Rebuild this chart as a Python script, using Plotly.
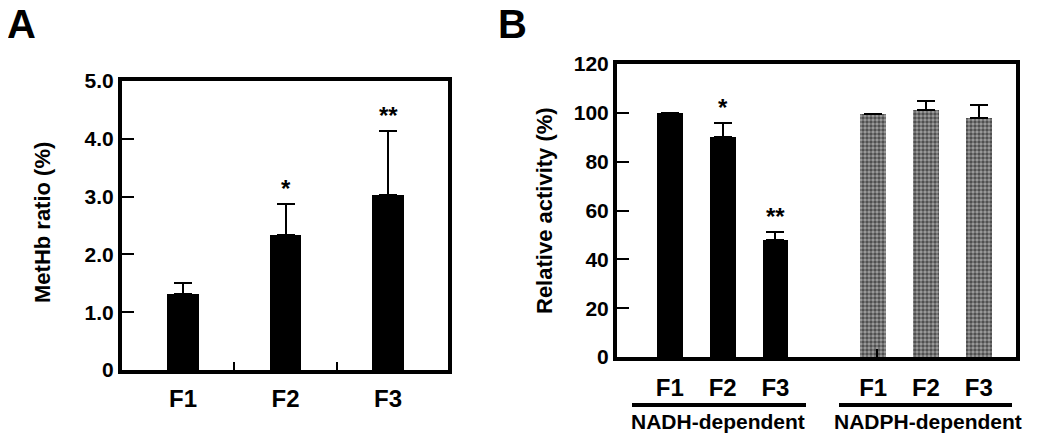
import plotly.graph_objects as go

# Panel A: MetHb ratio
fractions = ["F1", "F2", "F3"]
methb_ratio = [1.32, 2.34, 3.03]
methb_err = [0.18, 0.53, 1.11]
methb_sig = ["", "*", "**"]

# Panel B: relative reductase activity
nadh_activity = [100.0, 90.0, 48.0]
nadh_err = [0.0, 5.7, 3.0]
nadph_activity = [99.4, 101.2, 98.0]
nadph_err = [0.0, 3.6, 5.4]
activity_sig = ["", "*", "**"]
group_names = ["NADH-dependent", "NADPH-dependent"]

FONT = "Liberation Sans, Arial, sans-serif"
W, H = 1050, 443
OFF = 8  # page body margin

def px_x(p):
    return (p - OFF) / W

def px_y(p):
    return 1 - (p - OFF) / H

xa = [1, 2, 3]
gap = 3.85
xb1 = [1, 2, 3]
xb2 = [v + gap for v in xb1]

fig = go.Figure()

err_style = dict(type="data", symmetric=False, color="black", thickness=2, width=9)

fig.add_trace(go.Bar(
    x=xa, y=methb_ratio, width=0.31, marker=dict(color="black", line=dict(width=0)),
    error_y=dict(array=methb_err, arrayminus=[0] * 3, **err_style),
    xaxis="x", yaxis="y", showlegend=False
))
fig.add_trace(go.Bar(
    x=xb1, y=nadh_activity, width=0.49, marker=dict(color="black", line=dict(width=0)),
    error_y=dict(array=nadh_err, arrayminus=[0] * 3, **err_style),
    xaxis="x2", yaxis="y2", showlegend=False
))
fig.add_trace(go.Bar(
    x=xb2, y=nadph_activity, width=0.49,
    marker=dict(color="white", line=dict(width=0),
                pattern=dict(shape=".", size=4, solidity=0.6, fgcolor="black", bgcolor="#a0a0a0")),
    error_y=dict(array=nadph_err, arrayminus=[0] * 3, **err_style),
    xaxis="x2", yaxis="y2", showlegend=False
))

# significance marks
star_font = dict(family=FONT, size=24, color="black", weight="bold")
for x, v, e, s in zip(xa, methb_ratio, methb_err, methb_sig):
    if s:
        fig.add_annotation(x=x, y=v + e, xref="x", yref="y", text=s, showarrow=False,
                           xanchor="center", yanchor="bottom", font=star_font)
for x, v, e, s in zip(xb1, nadh_activity, nadh_err, activity_sig):
    if s:
        fig.add_annotation(x=x, y=v + e, xref="x2", yref="y2", text=s, showarrow=False,
                           xanchor="center", yanchor="bottom", font=star_font)

axis_common = dict(showline=True, linewidth=4, linecolor="black", mirror=True,
                   showgrid=False, zeroline=False, automargin=False)
tickfont = dict(family=FONT, size=21, color="black", weight="bold")
xtickfont = dict(family=FONT, size=24, color="black", weight="bold")

fig.update_layout(
    width=W, height=H,
    margin=dict(l=0, r=0, t=0, b=0, autoexpand=False),
    plot_bgcolor="white", paper_bgcolor="white",
    bargap=0,
    xaxis=dict(domain=[px_x(122), px_x(448)], range=[0.405, 3.585], anchor="y",
               tickvals=xa, ticktext=fractions, ticks="", tickfont=xtickfont, ticklabelstandoff=4,
               minor=dict(tickvals=[1.5, 2.5], ticks="inside", ticklen=8, tickwidth=2, tickcolor="black"),
               **axis_common),
    yaxis=dict(domain=[px_y(370), px_y(81)], range=[0, 5], anchor="x",
               tickvals=[0, 1, 2, 3, 4, 5], ticktext=["0", "1.0", "2.0", "3.0", "4.0", "5.0"],
               ticks="inside", ticklen=12, tickwidth=2, tickcolor="black", tickfont=tickfont,
               **axis_common),
    xaxis2=dict(domain=[px_x(617), px_x(1016)], range=[0, 3 + gap + 0.705], anchor="y2",
                tickvals=xb1 + xb2, ticktext=fractions + fractions, ticks="", tickfont=xtickfont,
                ticklabelstandoff=6,
                minor=dict(tickvals=[3 + gap / 2], ticks="inside", ticklen=8, tickwidth=2,
                           tickcolor="black"),
                **axis_common),
    yaxis2=dict(domain=[px_y(357), px_y(64)], range=[0, 120], anchor="x2",
                tickvals=[0, 20, 40, 60, 80, 100, 120],
                ticks="inside", ticklen=12, tickwidth=2, tickcolor="black", tickfont=tickfont,
                **axis_common),
)

# axis titles
title_font = dict(family=FONT, size=22, color="black", weight="bold")
fig.add_annotation(x=px_x(42), y=px_y(223), xref="paper", yref="paper", text="MetHb ratio (%)",
                   textangle=-90, showarrow=False, xanchor="center", yanchor="middle", font=title_font)
fig.add_annotation(x=px_x(544), y=px_y(211), xref="paper", yref="paper", text="Relative activity (%)",
                   textangle=-90, showarrow=False, xanchor="center", yanchor="middle", font=title_font)

# panel letters
letter_font = dict(family=FONT, size=40, color="black", weight="bold")
fig.add_annotation(x=0, y=1, xref="paper", yref="paper", text="A", showarrow=False,
                   xanchor="left", yanchor="top", yshift=8, xshift=-3, font=letter_font)
fig.add_annotation(x=px_x(496), y=1, xref="paper", yref="paper", text="B", showarrow=False,
                   xanchor="left", yanchor="top", yshift=8, font=letter_font)

# group underline and labels
spans = [(632, 806), (839, 1012)]
centers = [718, 928]
for (x0, x1), c, name in zip(spans, centers, group_names):
    fig.add_shape(type="line", xref="paper", yref="paper", x0=px_x(x0), x1=px_x(x1),
                  y0=px_y(405), y1=px_y(405), line=dict(color="black", width=4))
    fig.add_annotation(x=px_x(c), y=px_y(421), xref="paper", yref="paper", text=name, showarrow=False,
                       xanchor="center", yanchor="middle",
                       font=dict(family=FONT, size=21, color="black", weight="bold"))

fig.write_html("out.html")
